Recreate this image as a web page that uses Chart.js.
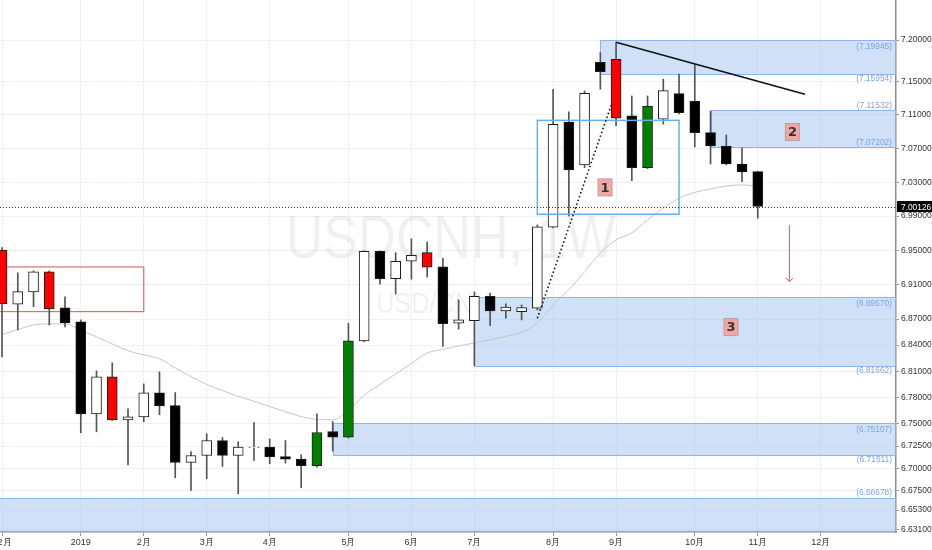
<!DOCTYPE html>
<html>
<head>
<meta charset="utf-8">
<script src="https://cdn.jsdelivr.net/npm/chart.js@4.4.1/dist/chart.umd.min.js"></script>
<style>
  html, body { margin: 0; padding: 0; background: #fff; }
</style>
</head>
<body>
<canvas id="usdcnh" width="932" height="550"></canvas>
<script>
// weekly candles, USDCNH
const weeks = ['2018-12-03','2018-12-10','2018-12-17','2018-12-24','2018-12-31','2019-01-07','2019-01-14','2019-01-21','2019-01-28',
  '2019-02-04','2019-02-11','2019-02-18','2019-02-25','2019-03-04','2019-03-11','2019-03-18','2019-03-25','2019-04-01','2019-04-08',
  '2019-04-15','2019-04-22','2019-04-29','2019-05-06','2019-05-13','2019-05-20','2019-05-27','2019-06-03','2019-06-10','2019-06-17',
  '2019-06-24','2019-07-01','2019-07-08','2019-07-15','2019-07-22','2019-07-29','2019-08-05','2019-08-12','2019-08-19','2019-08-26',
  '2019-09-02','2019-09-09','2019-09-16','2019-09-23','2019-09-30','2019-10-07','2019-10-14','2019-10-21','2019-10-28','2019-11-04']
const opens = [6.9503, 6.8873, 6.9015, 6.9248, 6.8830, 6.8668, 6.7615, 6.8036, 6.7547, 6.7581, 6.7854, 6.7709, 6.7064,
  6.7143, 6.7312, 6.7143, 6.7232, 6.7238, 6.7132, 6.7102, 6.7027, 6.7414, 6.7351, 6.8449, 6.9488, 6.9170, 6.9372, 6.9472,
  6.9306, 6.8653, 6.8683, 6.8964, 6.8795, 6.8787, 6.8827, 6.9770, 7.1015, 7.0504, 7.1731, 7.1767, 7.1087, 7.0472, 7.1047,
  7.1354, 7.1262, 7.0887, 7.0729, 7.0515, 7.0424]
const highs = [6.9530, 6.9236, 6.9259, 6.9259, 6.8957, 6.8691, 6.8105, 6.8197, 6.7672, 6.7956, 6.8093, 6.7857, 6.7188,
  6.7388, 6.7346, 6.7298, 6.7516, 6.7331, 6.7312, 6.7151, 6.7615, 6.7527, 6.8653, 6.9492, 6.9492, 6.9472, 6.9633, 6.9597,
  6.9407, 6.8923, 6.9015, 6.9000, 6.8876, 6.8865, 6.9797, 7.1407, 7.1135, 7.1386, 7.1847, 7.1972, 7.1326, 7.1326, 7.1527,
  7.1590, 7.1705, 7.1147, 7.0859, 7.0708, 7.0430]
const lows = [6.8266, 6.8576, 6.8842, 6.8633, 6.8610, 6.7399, 6.7411, 6.7540, 6.7038, 6.7524, 6.7604, 6.6892, 6.6749,
  6.6881, 6.7019, 6.6712, 6.7087, 6.7050, 6.7057, 6.6779, 6.7012, 6.7193, 6.7340, 6.8440, 6.9105, 6.8989, 6.9163, 6.9186,
  6.8384, 6.8584, 6.8166, 6.8625, 6.8710, 6.8691, 6.8807, 6.9762, 6.9902, 7.0472, 7.1407, 7.0971, 7.0318, 7.0460, 7.0988,
  7.1111, 7.0717, 7.0515, 7.0505, 7.0306, 6.9875]
const closes = [6.8876, 6.9019, 6.9248, 6.8818, 6.8656, 6.7615, 6.8036, 6.7547, 6.7581, 6.7854, 6.7706, 6.7064, 6.7143,
  6.7312, 6.7143, 6.7238, 6.7238, 6.7128, 6.7102, 6.7027, 6.7403, 6.7351, 6.8449, 6.9488, 6.9170, 6.9372, 6.9442, 6.9302,
  6.8648, 6.8691, 6.8964, 6.8795, 6.8838, 6.8834, 6.9773, 7.0988, 7.0444, 7.1359, 7.1618, 7.1059, 7.0472, 7.1206, 7.1390,
  7.1126, 7.0887, 7.0729, 7.0515, 7.0421, 7.00126]
// u = up, d = down, r / g = highlighted down / up
const tones = ['r','u','u','r','d','d','u','r','u','u','d','d','u','u','d','u','u','d','d','d','g','d','g','u','d',
  'u','u','r','d','u','u','d','u','u','u','u','d','u','d','r','d','g','u','d','d','d','d','d','d']
const ma20 = [6.8522, 6.8579, 6.8633, 6.8645, 6.8645, 6.8571, 6.8497, 6.8415, 6.8335, 6.8289, 6.8243, 6.8139, 6.8040,
  6.7951, 6.7879, 6.7814, 6.7757, 6.7698, 6.7640, 6.7583, 6.7552, 6.7547, 6.7655, 6.7825, 6.7951, 6.8070, 6.8191, 6.8309,
  6.8352, 6.8389, 6.8426, 6.8461, 6.8501, 6.8547, 6.8656, 6.8865, 6.9039, 6.9248, 6.9469, 6.9621, 6.9703, 6.9855, 6.9996,
  7.0108, 7.0179, 7.0220, 7.0255, 7.0267, 7.0255]

// axes
const monthTicks = [0, 5, 9, 13, 17, 22, 26, 30, 35, 39, 44, 48, 52, 57]
const monthLabels = ['12月','2019','2月','3月','4月','5月','6月','7月','8月','9月','10月','11月','12月','2020']
const priceTicks = [7.2, 7.15, 7.11, 7.07, 7.03, 6.99, 6.95, 6.91, 6.87, 6.84, 6.81, 6.78, 6.75, 6.725, 6.7, 6.675, 6.653, 6.631]
const xMin = -0.13, xMax = 56.78
const yMin = 6.6285, yMax = 7.2486

// drawings (week index, price)
const zoneStart = [38, 45, 30, 21, null]
const zoneTop = [7.19945, 7.11532, 6.89570, 6.75107, 6.66678]
const zoneBottom = [7.15954, 7.07202, 6.81662, 6.71511, null]
const box1 = [34, 43, 7.1034, 6.9922]
const redBox = [null, 9, 6.9305, 6.8787]
const trendLine = [39, 7.1972, 51, 7.1347]
const dotLine = [34, 6.8710, 38.74, 7.1243]
const arrowDown = [50, 6.9795, 6.9131]
const tags = [['1', 38.3, 7.0238], ['2', 50.2, 7.0896], ['3', 46.3, 6.8608]]

const FONT = "'Liberation Sans', Arial, sans-serif"
const fmt = v => '(' + v.toFixed(5) + ')'

function narrowText(ctx, text, cx, cy, size, squeeze) {
  ctx.save()
  ctx.translate(cx, cy)
  ctx.scale(squeeze, 1)
  ctx.font = size + 'px ' + FONT
  ctx.fillText(text, 0, 0)
  ctx.restore()
}

const overlay = {
  id: 'overlay',
  beforeDatasetsDraw(chart) {
    const {ctx, chartArea: a, scales: {x, y}} = chart
    ctx.save()
    ctx.beginPath()
    ctx.rect(a.left, a.top, a.width, a.height)
    ctx.clip()

    // watermark
    ctx.fillStyle = 'rgba(0,0,0,0.06)'
    ctx.textAlign = 'center'
    ctx.textBaseline = 'alphabetic'
    narrowText(ctx, 'USDCNH, 1W', a.left + a.width * 0.503, 258, 62, 0.84)
    narrowText(ctx, 'USD/CNH', a.left + a.width * 0.484, 313, 30, 0.84)

    // zones
    zoneTop.forEach((top, i) => {
      const x0 = zoneStart[i] === null ? a.left - 2 : Math.round(x.getPixelForValue(zoneStart[i]))
      const y0 = Math.round(y.getPixelForValue(top))
      const y1 = zoneBottom[i] === null ? a.bottom + 2 : Math.round(y.getPixelForValue(zoneBottom[i]))
      ctx.fillStyle = 'rgba(159,193,239,0.5)'
      ctx.fillRect(x0, y0, a.right - x0, y1 - y0)
      ctx.strokeStyle = '#8fb5ec'
      ctx.lineWidth = 1
      ctx.strokeRect(x0 + 0.5, y0 + 0.5, a.right - x0 + 2, y1 - y0)
    })

    // red box
    const rx1 = x.getPixelForValue(redBox[1])
    const ry0 = y.getPixelForValue(redBox[2]), ry1 = y.getPixelForValue(redBox[3])
    ctx.strokeStyle = '#e06c6c'
    ctx.lineWidth = 1.2
    ctx.strokeRect(a.left - 2, ry0, rx1 - a.left + 2, ry1 - ry0)
    ctx.restore()
  },
  afterDatasetsDraw(chart) {
    const {ctx, chartArea: a, scales: {x, y}} = chart
    ctx.save()
    ctx.beginPath()
    ctx.rect(a.left, a.top, a.width, a.height)
    ctx.clip()

    // box 1
    const bx0 = x.getPixelForValue(box1[0]), bx1 = x.getPixelForValue(box1[1])
    const by0 = y.getPixelForValue(box1[2]), by1 = y.getPixelForValue(box1[3])
    ctx.strokeStyle = '#6aaeea'
    ctx.lineWidth = 1.5
    ctx.strokeRect(bx0, by0, bx1 - bx0, by1 - by0)

    // last price line
    const py = Math.round(y.getPixelForValue(closes[closes.length - 1])) + 0.5
    ctx.strokeStyle = '#333'
    ctx.lineWidth = 1
    ctx.setLineDash([1, 2])
    ctx.beginPath()
    ctx.moveTo(a.left, py)
    ctx.lineTo(a.right, py)
    ctx.stroke()

    // dotted trend
    ctx.setLineDash([1.5, 2.5])
    ctx.lineWidth = 1.6
    ctx.strokeStyle = '#111'
    ctx.beginPath()
    ctx.moveTo(x.getPixelForValue(dotLine[0]), y.getPixelForValue(dotLine[1]))
    ctx.lineTo(x.getPixelForValue(dotLine[2]), y.getPixelForValue(dotLine[3]))
    ctx.stroke()
    ctx.setLineDash([])

    // resistance line
    ctx.lineWidth = 1.6
    ctx.beginPath()
    ctx.moveTo(x.getPixelForValue(trendLine[0]), y.getPixelForValue(trendLine[1]))
    ctx.lineTo(x.getPixelForValue(trendLine[2]), y.getPixelForValue(trendLine[3]))
    ctx.stroke()

    // arrow
    const ax = Math.round(x.getPixelForValue(arrowDown[0])) + 0.5
    const ay0 = y.getPixelForValue(arrowDown[1]), ay1 = y.getPixelForValue(arrowDown[2])
    ctx.strokeStyle = '#e06666'
    ctx.lineWidth = 1
    ctx.beginPath()
    ctx.moveTo(ax, ay0)
    ctx.lineTo(ax, ay1)
    ctx.moveTo(ax - 3.5, ay1 - 4)
    ctx.lineTo(ax, ay1)
    ctx.lineTo(ax + 3.5, ay1 - 4)
    ctx.stroke()

    // zone price labels
    const topOff = [6, -5, 6, 6, -5]
    const botOff = [5, -4, 5, 5]
    ctx.fillStyle = '#7ea6e2'
    ctx.textAlign = 'right'
    ctx.textBaseline = 'middle'
    zoneTop.forEach((top, i) => {
      narrowText(ctx, fmt(top), a.right - 4, y.getPixelForValue(top) + topOff[i], 9.5, 0.88)
      if (zoneBottom[i] !== null) {
        narrowText(ctx, fmt(zoneBottom[i]), a.right - 4, y.getPixelForValue(zoneBottom[i]) + botOff[i], 9.5, 0.88)
      }
    })

    // numbered tags
    ctx.textAlign = 'center'
    ctx.font = 'bold 13px "DejaVu Sans", sans-serif'
    tags.forEach(([t, k, p]) => {
      const cx = x.getPixelForValue(k), cy = y.getPixelForValue(p)
      ctx.fillStyle = '#f3a7a3'
      ctx.fillRect(cx - 7, cy - 8.5, 14, 17)
      ctx.strokeStyle = '#bba0a0'
      ctx.lineWidth = 1
      ctx.strokeRect(cx - 7, cy - 8.5, 14, 17)
      ctx.fillStyle = '#333'
      ctx.fillText(t, cx, cy + 1)
    })
    ctx.restore()
  },
  afterDraw(chart) {
    const {ctx, chartArea: a, scales: {y}} = chart
    const last = closes[closes.length - 1]
    const py = y.getPixelForValue(last)
    ctx.save()
    ctx.fillStyle = '#000'
    ctx.fillRect(a.right + 1, py - 5.5, chart.width - a.right, 11)
    ctx.fillStyle = '#fff'
    ctx.textAlign = 'left'
    ctx.textBaseline = 'middle'
    narrowText(ctx, last.toFixed(5), a.right + 5, py + 0.5, 9.5, 0.88)
    ctx.restore()
  }
}

const canvas = document.getElementById('usdcnh')
const bodyColors = tones.map(t => ({u: '#ffffff', d: '#000000', r: '#ff0000', g: '#008000'})[t])

new Chart(canvas, {
  type: 'bar',
  data: {
    datasets: [
      {
        label: 'body',
        data: weeks.map((w, i) => ({x: i, y: [opens[i], closes[i]]})),
        backgroundColor: bodyColors,
        borderColor: '#1c1c1c',
        borderWidth: 1,
        borderSkipped: false,
        barThickness: 10,
        grouped: false,
        order: 1
      },
      {
        label: 'wick',
        data: weeks.map((w, i) => ({x: i, y: [lows[i], highs[i]]})),
        backgroundColor: '#555555',
        borderWidth: 0,
        barThickness: 1,
        grouped: false,
        order: 2
      },
      {
        type: 'line',
        label: 'MA',
        data: ma20.map((v, i) => ({x: i, y: v})),
        borderColor: '#c6c6c6',
        borderWidth: 1,
        pointRadius: 0,
        cubicInterpolationMode: 'monotone',
        order: 3
      }
    ]
  },
  options: {
    responsive: false,
    animation: false,
    layout: {padding: 0},
    plugins: {
      legend: {display: false},
      tooltip: {enabled: false}
    },
    scales: {
      x: {
        type: 'linear',
        min: xMin,
        max: xMax,
        offset: false,
        grid: {color: '#eef2f7', offset: false, tickLength: 4, tickColor: '#999'},
        border: {color: '#8c8c8c', width: 1.5},
        afterBuildTicks: s => {
          s.ticks = monthTicks.filter(v => v >= xMin && v <= xMax).map(v => ({value: v}))
        },
        ticks: {
          autoSkip: false,
          maxRotation: 0,
          padding: 1,
          color: '#333',
          font: {family: FONT, size: 9},
          callback: v => monthLabels[monthTicks.indexOf(v)]
        },
        afterFit: s => { s.height = 18; s.paddingLeft = 0; s.paddingRight = 0 }
      },
      y: {
        type: 'logarithmic',
        position: 'right',
        min: yMin,
        max: yMax,
        grid: {color: '#eef2f7', tickLength: 3, tickColor: '#999'},
        border: {color: '#8c8c8c', width: 1.5},
        afterBuildTicks: s => {
          s.ticks = priceTicks.map(v => ({value: v}))
        },
        ticks: {
          autoSkip: false,
          padding: 2,
          color: '#333',
          font: {family: FONT, size: 8.5},
          callback: v => Number(v).toFixed(5)
        },
        afterFit: s => { s.width = 36; s.paddingTop = 0; s.paddingBottom = 0 }
      }
    }
  },
  plugins: [overlay]
})
</script>
</body>
</html>
